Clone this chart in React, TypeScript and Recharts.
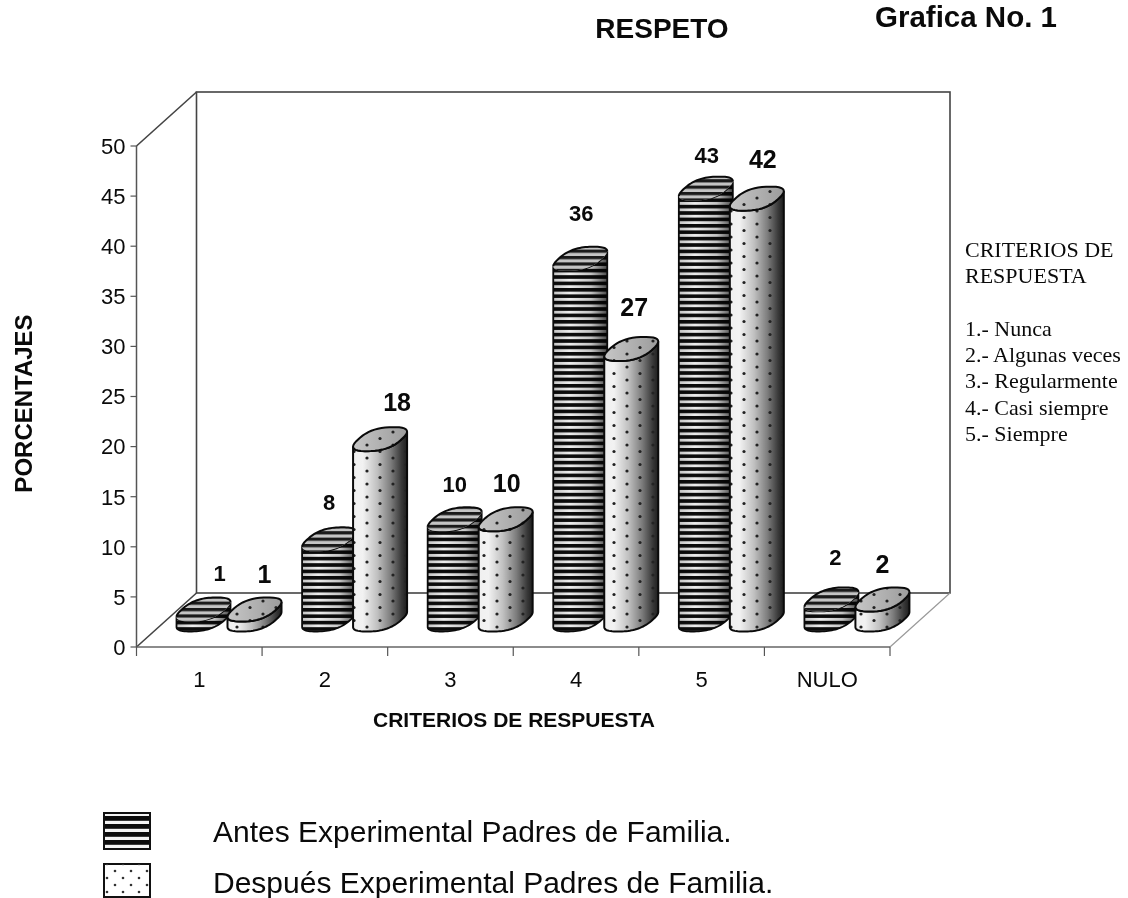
import { BarChart, Bar, XAxis, YAxis, LabelList } from 'recharts'

const categories = ['1', '2', '3', '4', '5', 'NULO']
const antes = [1, 8, 10, 36, 43, 2]
const despues = [1, 18, 10, 27, 42, 2]
const yTicks = [0, 5, 10, 15, 20, 25, 30, 35, 40, 45, 50]
const criterios = ['1.- Nunca', '2.- Algunas veces', '3.- Regularmente', '4.- Casi siempre', '5.- Siempre']

const chartData = categories.map((name, i) => ({ name, antes: antes[i], despues: despues[i] }))

const W = 1128
const H = 898
const LEFT = 136.5
const RIGHT = 890
const TOP = 146
const BOTTOM = 647
const BAND = (RIGHT - LEFT) / categories.length

// the fake 3d: back wall offset, bars stand half way into the depth
const WALL_DX = 60
const WALL_DY = -54
const DEPTH_DX = 30
const DEPTH_DY = -27.5
const CAP_BX = 13
const CAP_BY = -12

const SANS = 'Liberation Sans, Arial, sans-serif'
const SERIF = 'Liberation Serif, Times New Roman, serif'
const INK = '#0a0a0a'

// hand placed labels, the original ones are not aligned to the bars
const antesNudgeX = [16, 0, 0, 1, 1, 4]
const antesNudgeY = [-28.5, -29, -27.5, -37.7, -25.6, -34.5]
const despuesNudgeX = [10, 17, 1, 3, 6, 0]
const despuesNudgeY = [-26.5, -28.5, -27.5, -33, -31, -26.5]

// boxy ellipse: the caps in the scan are closer to a rounded parallelogram
const boxy = (v: number) => Math.sign(v) * Math.pow(Math.abs(v), 0.78)

function capPoint(cx: number, cy: number, a: number, t: number): [number, number] {
  return [cx + a * boxy(Math.cos(t)) + CAP_BX * boxy(Math.sin(t)), cy + CAP_BY * boxy(Math.sin(t))]
}

function arc(cx: number, cy: number, a: number, from: number, to: number) {
  const pts: string[] = []
  for (let k = 0; k <= 40; k++) {
    const [px, py] = capPoint(cx, cy, a, from + ((to - from) * k) / 40)
    pts.push(`${px.toFixed(2)} ${py.toFixed(2)}`)
  }
  return pts
}

// param of the rightmost point of the cap, where the side of the body leaves it
function rightmost(a: number) {
  let best = 0
  let bestX = -Infinity
  for (let k = 0; k <= 90; k++) {
    const t = (k / 90) * (Math.PI / 2)
    const [px] = capPoint(0, 0, a, t)
    if (px > bestX) {
      bestX = px
      best = t
    }
  }
  return { t0: best, reach: bestX }
}

// eslint-disable-next-line @typescript-eslint/no-explicit-any
function Cylinder({ x, y, width, height, kind }: any) {
  const r = width / 2
  // shrink a until the silhouette is as wide as the bar
  let a = r - CAP_BX
  for (let k = 0; k < 6; k++) a += r - rightmost(a).reach
  const { t0 } = rightmost(a)

  const cx = x + r + DEPTH_DX
  const topY = y + DEPTH_DY
  const baseY = y + height + DEPTH_DY

  const lower = arc(cx, baseY, a, t0 - Math.PI, t0)
  const upper = arc(cx, topY, a, t0, t0 - Math.PI)
  const body = `M${lower.join('L')}L${upper.join('L')}Z`
  const cap = `M${arc(cx, topY, a, t0, t0 + Math.PI * 2).join('L')}Z`
  const capBack = `M${arc(cx, topY, a, t0, t0 + Math.PI).join('L')}`

  if (kind === 'antes') {
    // front rim of the cap gets lost in the stripes, so only the back rim is inked
    return (
      <g>
        <path d={body} fill="url(#stripes)" />
        <path d={body} fill="url(#shadeAntes)" stroke="#0a0a0a" strokeWidth={1.8} />
        <path d={cap} fill="#c4c4c4" />
        <path d={cap} fill="url(#capStripes)" />
        <path d={capBack} fill="none" stroke="#0a0a0a" strokeWidth={2} />
      </g>
    )
  }
  return (
    <g>
      <path d={body} fill="url(#shadeDespues)" />
      <path d={body} fill="url(#dots)" stroke="#0a0a0a" strokeWidth={2} />
      <path d={cap} fill="url(#capShade)" />
      <path d={cap} fill="url(#dots)" stroke="#0a0a0a" strokeWidth={2} />
    </g>
  )
}

function makeLabel(fontSize: number, nudgeX: number[], nudgeY: number[]) {
  // eslint-disable-next-line @typescript-eslint/no-explicit-any
  return ({ x, y, width, value, index }: any) => (
    <text
      x={x + width / 2 + DEPTH_DX + nudgeX[index]}
      y={y + DEPTH_DY + nudgeY[index]}
      textAnchor="middle"
      fontFamily={SANS}
      fontWeight="bold"
      fontSize={fontSize}
      fill={INK}
    >
      {value}
    </text>
  )
}

// eslint-disable-next-line @typescript-eslint/no-explicit-any
function CategoryTick({ x, payload, index }: any) {
  return (
    <g>
      {index === 0 && <line x1={LEFT} x2={LEFT} y1={BOTTOM} y2={BOTTOM + 9} stroke="#555" strokeWidth={1.2} />}
      <line x1={x + BAND / 2} x2={x + BAND / 2} y1={BOTTOM} y2={BOTTOM + 9} stroke="#555" strokeWidth={1.2} />
      <text x={x} y={687} textAnchor="middle" fontFamily={SANS} fontSize={22} fill={INK}>
        {payload.value}
      </text>
    </g>
  )
}

function Defs() {
  return (
    <defs>
      <pattern id="stripes" width="8" height="6.4" patternUnits="userSpaceOnUse">
        <rect width="8" height="6.4" fill="#f4f4f4" />
        <rect width="8" height="3.6" fill="#0c0c0c" />
      </pattern>
      <pattern id="capStripes" width="8" height="6.4" patternUnits="userSpaceOnUse">
        <rect width="8" height="3.2" fill="#1a1a1a" />
      </pattern>
      <pattern id="swatchStripes" width="8" height="8" patternUnits="userSpaceOnUse">
        <rect width="8" height="8" fill="#f4f4f4" />
        <rect width="8" height="4.8" fill="#0c0c0c" />
      </pattern>
      <pattern id="dots" width="26" height="13" patternUnits="userSpaceOnUse">
        <circle cx="3" cy="3" r="1.6" fill="#222" />
        <circle cx="16" cy="9.5" r="1.6" fill="#222" />
      </pattern>
      <pattern id="swatchDots" width="16" height="14" patternUnits="userSpaceOnUse">
        <circle cx="3" cy="3" r="1.3" fill="#333" />
        <circle cx="11" cy="10" r="1.3" fill="#333" />
      </pattern>
      <linearGradient id="shadeAntes" x1="0" x2="1" y1="0" y2="0">
        <stop offset="0" stopColor="#000" stopOpacity={0.2} />
        <stop offset="0.3" stopColor="#000" stopOpacity={0.03} />
        <stop offset="0.7" stopColor="#000" stopOpacity={0.2} />
        <stop offset="1" stopColor="#000" stopOpacity={0.7} />
      </linearGradient>
      <linearGradient id="shadeDespues" x1="0" x2="1" y1="0" y2="0">
        <stop offset="0" stopColor="#f0f0f0" />
        <stop offset="0.18" stopColor="#f2f2f2" />
        <stop offset="0.45" stopColor="#c0c0c0" />
        <stop offset="0.7" stopColor="#7c7c7c" />
        <stop offset="0.9" stopColor="#383838" />
        <stop offset="1" stopColor="#1e1e1e" />
      </linearGradient>
      <linearGradient id="capShade" x1="0" x2="1" y1="0" y2="0">
        <stop offset="0" stopColor="#c6c6c6" />
        <stop offset="1" stopColor="#9c9c9c" />
      </linearGradient>
    </defs>
  )
}

function Frame() {
  const line = { stroke: '#444', strokeWidth: 1.6, fill: 'none' }
  return (
    <g>
      <rect x={LEFT + WALL_DX} y={TOP + WALL_DY} width={RIGHT - LEFT} height={BOTTOM - TOP} {...line} />
      <line x1={LEFT} y1={TOP} x2={LEFT + WALL_DX} y2={TOP + WALL_DY} {...line} />
      <line x1={LEFT} y1={BOTTOM} x2={LEFT + WALL_DX} y2={BOTTOM + WALL_DY} {...line} />
      <line x1={RIGHT} y1={BOTTOM} x2={RIGHT + WALL_DX} y2={BOTTOM + WALL_DY} stroke="#999" strokeWidth={1.2} />
    </g>
  )
}

function Annotations() {
  return (
    <g fill={INK}>
      <text x={662} y={38} textAnchor="middle" fontFamily={SANS} fontWeight="bold" fontSize={28}>
        RESPETO
      </text>
      <text x={875} y={27} fontFamily={SANS} fontWeight="bold" fontSize={29.5}>
        Grafica No. 1
      </text>
      <text
        transform="translate(32,403.5) rotate(-90)"
        textAnchor="middle"
        fontFamily={SANS}
        fontWeight="bold"
        fontSize={24}
      >
        PORCENTAJES
      </text>
      <text x={514} y={727} textAnchor="middle" fontFamily={SANS} fontWeight="bold" fontSize={21}>
        CRITERIOS DE RESPUESTA
      </text>

      <g fontFamily={SERIF} fontSize={22}>
        <text x={965} y={257}>CRITERIOS DE</text>
        <text x={965} y={283}>RESPUESTA</text>
        {criterios.map((c, i) => (
          <text key={c} x={965} y={336 + i * 26.2}>
            {c}
          </text>
        ))}
      </g>

      <rect x={104} y={813} width={46} height={36} fill="url(#swatchStripes)" stroke="#111" strokeWidth={2} />
      <rect x={104} y={864} width={46} height={33} fill="#fff" stroke="#111" strokeWidth={2} />
      <rect x={104} y={864} width={46} height={33} fill="url(#swatchDots)" />
      <g fontFamily={SANS} fontSize={30}>
        <text x={213} y={842}>Antes Experimental Padres de Familia.</text>
        <text x={213} y={893}>Después Experimental Padres de Familia.</text>
      </g>
    </g>
  )
}

export default function App() {
  return (
    <div style={{ position: 'absolute', left: 0, top: 0, width: W, height: H, overflow: 'hidden', filter: 'blur(0.55px)' }}>
      <BarChart
        width={W}
        height={H}
        data={chartData}
        margin={{ top: TOP, right: W - RIGHT, bottom: 0, left: 0 }}
        barSize={54}
        barGap={-3}
      >
        <Defs />
        <Frame />
        <XAxis
          dataKey="name"
          height={H - BOTTOM}
          interval={0}
          tickLine={false}
          axisLine={{ stroke: '#666', strokeWidth: 1.5 }}
          tick={<CategoryTick />}
        />
        <YAxis
          width={LEFT}
          domain={[0, 50]}
          ticks={yTicks}
          interval={0}
          tickSize={6}
          tickMargin={5}
          axisLine={{ stroke: '#555', strokeWidth: 1.5 }}
          tickLine={{ stroke: '#555', strokeWidth: 1.2 }}
          tick={{ fontFamily: SANS, fontSize: 22, fill: INK }}
        />
        <Bar dataKey="antes" isAnimationActive={false} shape={(p: any) => <Cylinder {...p} kind="antes" />}>
          <LabelList dataKey="antes" content={makeLabel(22, antesNudgeX, antesNudgeY)} />
        </Bar>
        <Bar dataKey="despues" isAnimationActive={false} shape={(p: any) => <Cylinder {...p} kind="despues" />}>
          <LabelList dataKey="despues" content={makeLabel(25, despuesNudgeX, despuesNudgeY)} />
        </Bar>
        <Annotations />
      </BarChart>
    </div>
  )
}
